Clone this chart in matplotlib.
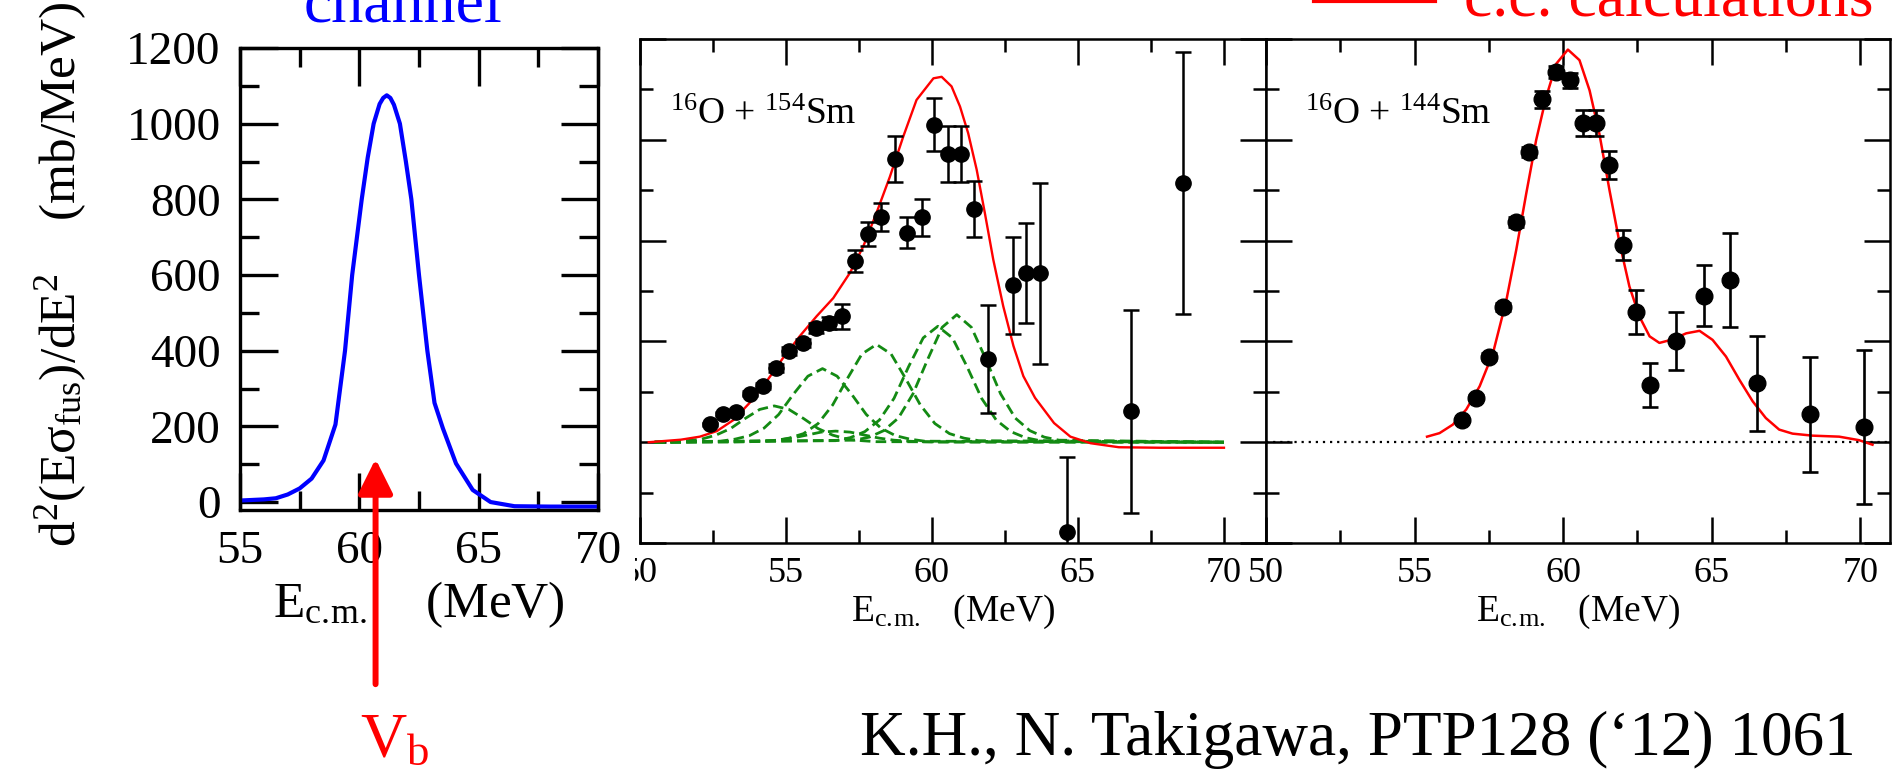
import matplotlib
matplotlib.use("Agg")
import matplotlib.pyplot as plt
from matplotlib.lines import Line2D
from matplotlib.ticker import MultipleLocator
from matplotlib.transforms import Bbox, TransformedBbox

plt.rcParams["font.family"] = ["Liberation Serif", "DejaVu Serif"]
plt.rcParams["mathtext.fontset"] = "custom"
plt.rcParams["mathtext.rm"] = "Liberation Serif"
plt.rcParams["mathtext.it"] = "Liberation Serif:italic"
plt.rcParams["mathtext.bf"] = "Liberation Serif:bold"

# ---- single channel barrier distribution (left panel)
e_single = [55.0, 56.0, 56.5, 57.0, 57.5, 58.0, 58.5, 59.0, 59.4, 59.7, 60.1, 60.35, 60.6,
            60.85, 61.0, 61.15, 61.3, 61.45, 61.7, 61.95, 62.18, 62.5, 62.85, 63.15, 63.5,
            64.05, 64.75, 65.5, 66.5, 68.0, 70.0]
d_single = [4, 7, 10, 20, 36, 62, 110, 205, 400, 600, 800, 910, 1000,
            1052, 1068, 1075, 1068, 1050, 1000, 900, 800, 600, 400, 262, 195,
            102, 32, 0, -11, -12, -12]
vb = 60.68

# ---- 16O + 154Sm data
e_154 = [52.40, 52.83, 53.29, 53.77, 54.22, 54.66, 55.11, 55.57, 56.03, 56.48, 56.91, 57.35,
         57.81, 58.25, 58.73, 59.16, 59.65, 60.08, 60.54, 61.00, 61.44, 61.92, 62.77, 63.21,
         63.70, 64.61, 66.80, 68.61]
d_154 = [36, 55, 59, 96, 112, 148, 181, 197, 227, 237, 250, 359,
         413, 447, 562, 416, 446, 630, 572, 572, 463, 165, 311, 335,
         335, -178, 61, 514]
err_154 = [3, 4, 4, 5, 6, 8, 8, 8, 10, 12, 25, 22,
           23, 27, 46, 31, 36, 52, 56, 55, 55, 108, 97, 99,
           179, 148, 202, 260]

# c.c. calculation for 154Sm
e_cc154 = [50.3, 51.4, 52.05, 52.63, 53.2, 53.77, 54.34, 54.91, 55.48, 56.05, 56.62, 57.19,
           57.65, 58.1, 58.56, 59.02, 59.47, 60.05, 60.33, 60.67, 60.96, 61.24, 61.53, 61.81,
           62.1, 62.44, 62.79, 63.13, 63.53, 64.18, 64.74, 65.43, 66.4, 67.8, 70.0]
d_cc154 = [0, 5, 11, 22, 44, 79, 121, 168, 211, 250, 286, 336,
           389, 455, 527, 607, 679, 722, 725, 706, 666, 613, 541, 455,
           362, 270, 191, 131, 88, 38, 11, -2, -10, -11, -11]

# eigenchannel contributions (dashed green)
e_ch1 = [50.5, 51.1, 51.6, 52.1, 52.6, 53.1, 53.6, 54.1, 54.6, 55.1, 55.6, 56.1, 56.6, 57.1, 57.6, 58.1, 70.0]
d_ch1 = [0, 1, 3, 6, 14, 27, 47, 65, 72, 65, 47, 27, 14, 6, 3, 1, 0]
e_ch2 = [50.5, 53.2, 53.7, 54.2, 54.7, 55.2, 55.7, 56.2, 56.7, 57.2, 57.7, 58.2, 58.7, 59.2, 59.7, 60.2, 70.0]
d_ch2 = [0, 0.3, 0.9, 2, 4, 8, 14, 20, 22, 20, 14, 8, 4, 2, 0.9, 0.3, 0]
e_ch3 = [50.5, 52.75, 53.25, 53.75, 54.25, 54.75, 55.25, 55.75, 56.25, 56.75, 57.25, 57.75, 58.25, 58.75, 59.25, 59.75, 70.0]
d_ch3 = [0, 2, 6, 13, 28, 55, 95, 131, 146, 131, 95, 55, 28, 13, 6, 2, 0]
e_ch4 = [50.5, 54.6, 55.1, 55.6, 56.1, 56.6, 57.1, 57.6, 58.1, 58.6, 59.1, 59.6, 60.1, 60.6, 61.1, 61.6, 70.0]
d_ch4 = [0, 3, 8, 17, 37, 74, 126, 175, 194, 175, 126, 74, 37, 17, 8, 3, 0]
e_ch5 = [50.5, 56.7, 57.2, 57.7, 58.2, 58.7, 59.2, 59.7, 60.2, 60.7, 61.2, 61.7, 62.2, 62.7, 63.2, 63.7, 70.0]
d_ch5 = [0, 3, 9, 21, 44, 87, 150, 207, 230, 207, 150, 87, 44, 21, 9, 3, 0]
e_ch6 = [50.5, 57.35, 57.85, 58.35, 58.85, 59.35, 59.85, 60.35, 60.85, 61.35, 61.85, 62.35, 62.85, 63.35, 63.85, 64.35, 70.0]
d_ch6 = [0, 4, 10, 23, 48, 96, 164, 228, 253, 228, 164, 96, 48, 23, 10, 4, 0]
channels = [(e_ch1, d_ch1), (e_ch2, d_ch2), (e_ch3, d_ch3), (e_ch4, d_ch4), (e_ch5, d_ch5), (e_ch6, d_ch6)]

# ---- 16O + 144Sm data
e_144 = [56.61, 57.06, 57.51, 57.96, 58.40, 58.85, 59.30, 59.75, 60.22, 60.67, 61.10, 61.56,
         62.01, 62.46, 62.91, 63.81, 64.73, 65.62, 66.52, 68.32, 70.11]
d_144 = [44, 88, 170, 268, 436, 576, 680, 735, 718, 634, 634, 550,
         391, 258, 114, 201, 291, 322, 117, 55, 30]
err_144 = [4, 5, 6, 8, 10, 10, 17, 12, 15, 26, 26, 27,
           30, 44, 44, 57, 60, 93, 94, 114, 152]

e_cc144 = [55.42, 55.84, 56.29, 56.74, 57.19, 57.64, 58.09, 58.42, 58.76, 59.09, 59.43, 59.77,
           60.16, 60.55, 60.89, 61.22, 61.56, 61.90, 62.23, 62.57, 62.91, 63.24, 63.69, 64.14,
           64.59, 65.03, 65.48, 65.93, 66.38, 66.82, 67.27, 67.72, 68.39, 69.29, 69.96, 70.41]
d_cc144 = [11, 18, 35, 65, 111, 177, 282, 381, 494, 599, 685, 751,
           779, 758, 698, 612, 500, 395, 309, 249, 210, 197, 204, 216,
           221, 203, 170, 124, 81, 48, 25, 17, 13, 11, 4, -5]

W, H = 1892, 771
fig = plt.figure(figsize=(W / 100, H / 100), dpi=100)

ecm = "E$_{\\rm c.\\!m.}$"


def frame(ax, major, minor, width, size, pad):
    ax.tick_params(which="both", direction="in", top=True, right=True, width=width,
                   labelsize=size, pad=pad)
    ax.tick_params(which="major", length=major)
    ax.tick_params(which="minor", length=minor)
    for s in ax.spines.values():
        s.set_linewidth(width)


# left panel
ax1 = fig.add_axes([240 / W, 1 - 510 / H, 358 / W, 462 / H])
ax1.plot(e_single, d_single, color="blue", lw=3.0)
ax1.set_xlim(55, 70)
ax1.set_ylim(-21, 1200)
ax1.xaxis.set_major_locator(MultipleLocator(5))
ax1.xaxis.set_minor_locator(MultipleLocator(2.5))
ax1.yaxis.set_major_locator(MultipleLocator(200))
ax1.yaxis.set_minor_locator(MultipleLocator(100))
frame(ax1, 27, 14, 2.4, 34, 14)
ax1.tick_params(axis="x", pad=15)
ax1.set_xlabel(ecm + "    (MeV)", fontsize=37, labelpad=4)
ax1.text(-0.5, 0.51, "d$^{2}$(Eσ$_{\\rm fus}$)/dE$^{2}$    (mb/MeV)", transform=ax1.transAxes,
         rotation=90, ha="center", va="center", fontsize=37)
ax1.annotate("", xy=(vb, 114), xytext=(vb, -0.377),
             textcoords=("data", "axes fraction"), annotation_clip=False,
             arrowprops=dict(arrowstyle="-|>,head_length=1.4,head_width=0.7", mutation_scale=15,
                             color="red", lw=4.3, shrinkA=0, shrinkB=0))

# middle panel
ax2 = fig.add_axes([640 / W, 1 - 543 / H, 626 / W, 504 / H])
for e, d in channels:
    ax2.plot(e, d, color="#138a13", lw=2.0, dashes=(3.8, 1.9))
ax2.plot(e_cc154, d_cc154, color="red", lw=1.7)
ax2.errorbar(e_154, d_154, yerr=err_154, fmt="o", color="black", ms=11,
             capsize=5.5, elinewidth=1.8, capthick=1.8)
ax2.set_xlim(50, 71.44)
ax2.text(0.048, 0.831, "$^{16}$O + $^{154}$Sm", transform=ax2.transAxes, fontsize=27,
         va="baseline")

# right panel
ax3 = fig.add_axes([1266 / W, 1 - 543 / H, 624 / W, 504 / H])
ax3.axhline(0, color="black", lw=1.6, dashes=(1, 2.2))
ax3.plot(e_cc144, d_cc144, color="red", lw=1.8)
ax3.errorbar(e_144, d_144, yerr=err_144, fmt="o", color="black", ms=12,
             capsize=5.8, elinewidth=1.9, capthick=1.9)
ax3.set_xlim(50, 71.0)
ax3.text(0.0625, 0.831, "$^{16}$O + $^{144}$Sm", transform=ax3.transAxes, fontsize=27,
         va="baseline")

for ax in (ax2, ax3):
    ax.set_ylim(-200, 800)
    ax.xaxis.set_major_locator(MultipleLocator(5))
    ax.xaxis.set_minor_locator(MultipleLocator(2.5))
    ax.yaxis.set_major_locator(MultipleLocator(200))
    ax.yaxis.set_minor_locator(MultipleLocator(100))
    frame(ax, 19, 9.5, 1.8, 26, 10)
    ax.tick_params(labelleft=False)
    ax.set_xlabel(ecm + "   (MeV)", fontsize=27, labelpad=2)

# texts around the panels (partly cut by the page edge)
fig.text(403 / W, 1 - 22 / H, "channel", color="blue", fontsize=46, ha="center", va="baseline")
fig.text(1464 / W, 1 - 15 / H, "c.c. calculations", color="red", fontsize=46, ha="left",
         va="baseline")
fig.add_artist(Line2D([1314 / W, 1435 / W], [1 - 0.5 / H] * 2, color="red", lw=3))
fig.text(360 / W, 1 - 757 / H, "V$_{\\rm b}$", color="red", fontsize=46, ha="left", va="baseline")
fig.text(860 / W, 1 - 755 / H, "K.H., N. Takigawa, PTP128 (\u201812) 1061", fontsize=45.5,
         ha="left", va="baseline")

# the "50" of the middle panel is cut by the left panel's picture edge
fig.canvas.draw()
clip = TransformedBbox(Bbox.from_extents(635 / W, 0, 1, 1), fig.transFigure)
for lbl in ax2.get_xticklabels():
    lbl.set_clip_box(clip)
    lbl.set_clip_on(True)

fig.savefig("out.png", dpi=100)
